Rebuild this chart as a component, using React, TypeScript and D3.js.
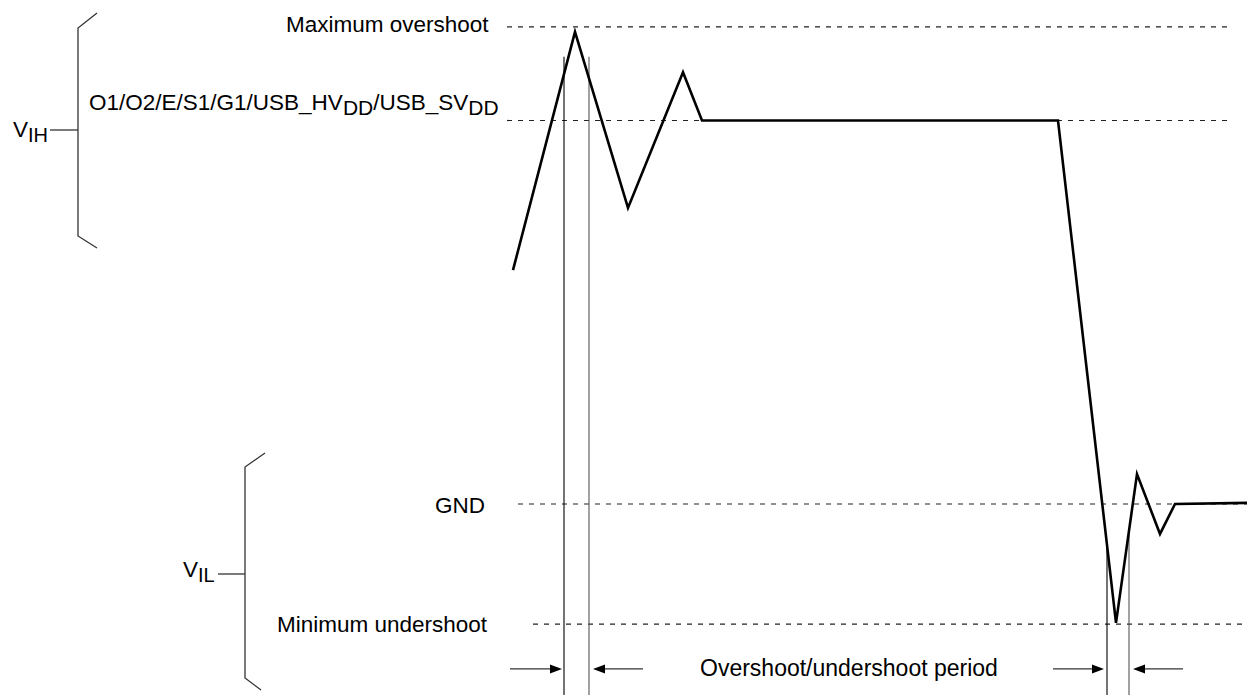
import React from "react";
import * as d3 from "d3";

// ---- data (time in arbitrary units, voltage normalised: GND = 0, VDD = 1) ----
const levelNames = ["Maximum overshoot", "VDD", "GND", "Minimum undershoot"];
const levelValues = [1.244, 1.0, 0.0, -0.313];

const waveT = [1.3, 7.5, 12.8, 18.3, 20.2, 55.8, 61.6, 63.7, 66.0, 67.5, 74.7];
const waveV = [0.61, 1.231, 0.772, 1.126, 1.0, 1.0, -0.31, 0.078, -0.078, 0.0, 0.003];

const markerT = [6.4, 8.9, 60.7, 62.9];
const markerTopV = [1.166, 1.166, -0.112, -0.078];
const markerColors = ["#000", "#555", "#000", "#555"];

const arrowFromT = [1.0, 14.3, 55.3, 68.3];
const arrowToT = [6.2, 9.3, 60.4, 63.3];
const arrowV = -0.43;

const W = 1247;
const H = 695;
const FONT = "'Liberation Sans', Arial, Helvetica, sans-serif";

export default function App() {
  const x = d3.scaleLinear().domain([0, 74.7]).range([500, 1247]);
  const y = d3.scaleLinear().domain([0, 1]).range([504, 120.5]);

  const line = d3
    .line<number>()
    .x((_, i) => x(waveT[i]))
    .y((_, i) => y(waveV[i]));

  // dashed reference lines (layout: start/end x of each)
  const dashStart = [507, 507, 518, 533];
  const dashEnd = [1230, 1233, 1247, 1247];

  return (
    <svg
      width={W}
      height={H}
      viewBox={`0 0 ${W} ${H}`}
      style={{ position: "absolute", left: 0, top: 0, background: "#fff" }}
      fontFamily={FONT}
    >
      <rect x={0} y={0} width={W} height={H} fill="#fff" />

      {/* dashed level lines */}
      {levelValues.map((v, i) => (
        <line
          key={levelNames[i]}
          x1={dashStart[i]}
          x2={dashEnd[i]}
          y1={y(v)}
          y2={y(v)}
          stroke="#222"
          strokeWidth={1.2}
          strokeDasharray="5,6"
        />
      ))}

      {/* vertical period markers */}
      {markerT.map((t, i) => (
        <line
          key={"m" + i}
          x1={x(t)}
          x2={x(t)}
          y1={y(markerTopV[i])}
          y2={H}
          stroke={markerColors[i]}
          strokeWidth={1.1}
        />
      ))}

      {/* waveform */}
      <path d={line(waveT) || ""} fill="none" stroke="#000" strokeWidth={2.6} strokeLinejoin="miter" />

      {/* arrows */}
      {arrowFromT.map((ft, i) => {
        const x1 = x(ft);
        const x2 = x(arrowToT[i]);
        const yy = y(arrowV);
        const dir = x2 > x1 ? 1 : -1;
        const hl = 12;
        const hw = 4.5;
        return (
          <g key={"a" + i}>
            <line x1={x1} x2={x2 - dir * hl} y1={yy} y2={yy} stroke="#333" strokeWidth={1.3} />
            <path
              d={`M${x2},${yy} L${x2 - dir * hl},${yy - hw} L${x2 - dir * hl},${yy + hw} Z`}
              fill="#000"
            />
          </g>
        );
      })}

      {/* braces */}
      <path d="M97,13 L78,28 L78,236 L97,248" fill="none" stroke="#333" strokeWidth={1.3} />
      <line x1={50} x2={78} y1={130} y2={130} stroke="#333" strokeWidth={1.3} />
      <path d="M265,453 L245,467 L245,678 L261,690" fill="none" stroke="#333" strokeWidth={1.3} />
      <line x1={218} x2={245} y1={574} y2={574} stroke="#333" strokeWidth={1.3} />

      {/* texts */}
      <g fill="#000" fontSize={22.5}>
        <text x={13} y={137}>
          V<tspan fontSize={20} dy={5}>IH</tspan>
        </text>
        <text x={183} y={577}>
          V<tspan fontSize={20} dy={5}>IL</tspan>
        </text>
        <text x={286} y={32}>Maximum overshoot</text>
        <text x={89} y={110}>
          O1/O2/E/S1/G1/USB_HV
          <tspan fontSize={21} dy={5}>DD</tspan>
          <tspan dy={-5}>/USB_SV</tspan>
          <tspan fontSize={21} dy={5}>DD</tspan>
        </text>
        <text x={435} y={513}>GND</text>
        <text x={277} y={632}>Minimum undershoot</text>
        <text x={700} y={676} fontSize={23}>Overshoot/undershoot period</text>
      </g>
    </svg>
  );
}
